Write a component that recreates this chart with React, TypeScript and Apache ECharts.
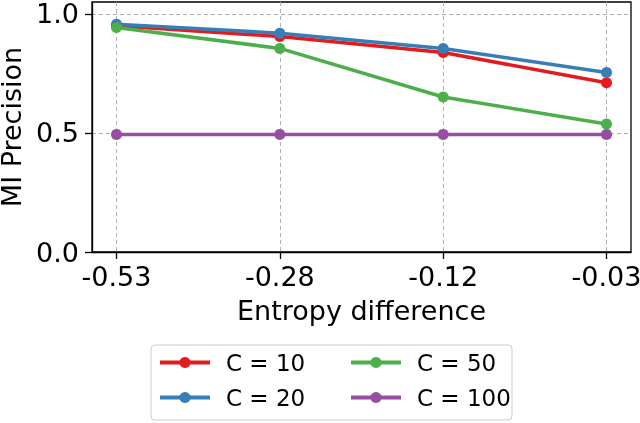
import React, { useEffect, useRef } from "react";
import * as echarts from "echarts";

const categories = ["-0.53", "-0.28", "-0.12", "-0.03"];
const yTicks = [0, 0.5, 1.0];
const seriesNames = ["C = 10", "C = 20", "C = 50", "C = 100"];
const c10 = [0.95, 0.905, 0.838, 0.711];
const c20 = [0.957, 0.919, 0.855, 0.754];
const c50 = [0.943, 0.855, 0.651, 0.538];
const c100 = [0.494, 0.494, 0.494, 0.494];
const colors = ["#e41a1c", "#377eb8", "#4daf4a", "#984ea3"];

const FONT = "DejaVu Sans";

export default function App() {
  const ref = useRef<HTMLDivElement>(null);
  useEffect(() => {
    if (!ref.current) return;
    const chart = echarts.init(ref.current, null, { renderer: "svg" });
    const values = [c10, c20, c50, c100];
    const xIdx = categories.map((_, i) => i);
    const series = seriesNames.map((name, s) => ({
      name,
      type: "line",
      data: values[s].map((v, i) => [xIdx[i], v]),
      symbol: "circle",
      symbolSize: 11,
      lineStyle: { width: 3.5, color: colors[s] },
      itemStyle: { color: colors[s] },
      color: colors[s],
      z: 3 + s,
    }));
    const gridStyle = { show: true, lineStyle: { color: "#b0b0b0", type: [4, 3], width: 1 } };
    const legendBase = {
      orient: "vertical",
      top: 349,
      padding: 0,
      itemWidth: 50,
      itemHeight: 14,
      itemGap: 8,
      lineStyle: { width: 4 },
      textStyle: { fontSize: 23, color: "#000", lineHeight: 27, padding: [0, 0, 0, 11], fontFamily: FONT },
    };
    chart.setOption({
      animation: false,
      textStyle: { fontFamily: FONT },
      grid: {
        left: 92,
        right: 9,
        top: 2,
        bottom: 171,
        show: true,
        borderColor: "#000",
        borderWidth: 1.3,
        backgroundColor: "transparent",
        outerBoundsMode: "none",
        containLabel: false,
      },
      xAxis: {
        type: "value",
        min: -0.15,
        max: 3.15,
        name: "Entropy difference",
        nameLocation: "middle",
        nameGap: 45,
        nameTextStyle: { fontSize: 27, color: "#000", fontFamily: FONT },
        axisLine: { show: true, onZero: false, lineStyle: { color: "#000", width: 1.3 } },
        axisTick: { show: true, length: 7, customValues: xIdx, lineStyle: { color: "#000", width: 1.3 } },
        axisLabel: {
          customValues: xIdx,
          formatter: (v: number) => categories[Math.round(v)] ?? "",
          fontSize: 27,
          color: "#000",
          margin: 11,
          fontFamily: FONT,
        },
        splitLine: gridStyle,
      },
      yAxis: {
        type: "value",
        min: 0,
        max: 1.05,
        name: "MI Precision",
        nameLocation: "middle",
        nameGap: 62,
        nameTextStyle: { fontSize: 27, color: "#000", fontFamily: FONT, lineHeight: 26 },
        axisLine: { show: true, onZero: false, lineStyle: { color: "#000", width: 1.3 } },
        axisTick: { show: true, length: 7, customValues: yTicks, lineStyle: { color: "#000", width: 1.3 } },
        axisLabel: {
          customValues: yTicks,
          formatter: (v: number) => v.toFixed(1),
          fontSize: 27,
          lineHeight: 24,
          color: "#000",
          margin: 13,
          fontFamily: FONT,
        },
        splitLine: gridStyle,
      },
      legend: [
        { ...legendBase, data: [seriesNames[0], seriesNames[1]], left: 158 },
        { ...legendBase, data: [seriesNames[2], seriesNames[3]], left: 349 },
      ],
      graphic: [
        {
          type: "rect",
          z: 0,
          shape: { x: 151, y: 345, width: 361, height: 75, r: 4 },
          style: { fill: "#fff", stroke: "#cccccc", lineWidth: 1 },
        },
      ],
      series,
    });
    return () => chart.dispose();
  }, []);
  return <div ref={ref} style={{ position: "fixed", left: 0, top: 0, width: 640, height: 423 }} />;
}
